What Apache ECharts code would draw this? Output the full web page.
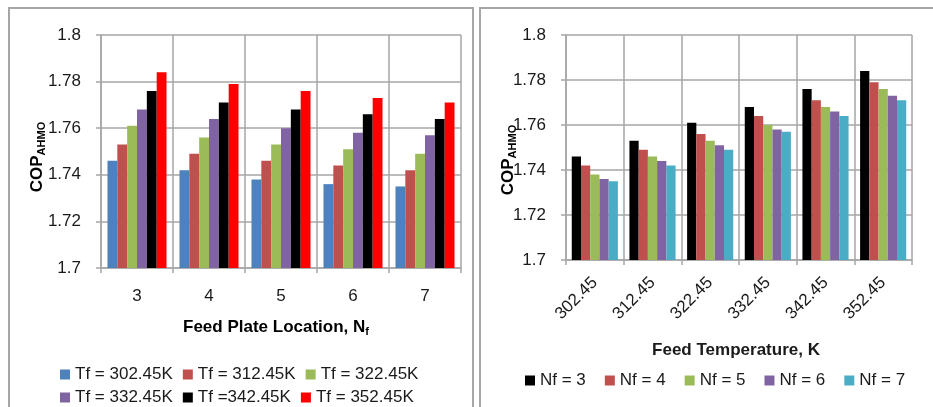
<!DOCTYPE html>
<html>
<head>
<meta charset="utf-8">
<script src="https://cdn.jsdelivr.net/npm/echarts@6/dist/echarts.min.js"></script>
<style>
html,body{margin:0;padding:0;background:#fff;}
#c{width:933px;height:407px;}
</style>
</head>
<body>
<div id="c"></div>
<script>
// Categories
const nfCats = ['3', '4', '5', '6', '7'];
const tfCats = ['302.45', '312.45', '322.45', '332.45', '342.45', '352.45'];
// Legend names
const tfNames = ['Tf = 302.45K', 'Tf = 312.45K', 'Tf = 322.45K', 'Tf = 332.45K', 'Tf =342.45K', 'Tf = 352.45K'];
const nfNames = ['Nf = 3', 'Nf = 4', 'Nf = 5', 'Nf = 6', 'Nf = 7'];
// COP_AHMO values for each feed temperature, over Nf = 3..7
const copTf302 = [1.746, 1.742, 1.738, 1.736, 1.735];
const copTf312 = [1.753, 1.749, 1.746, 1.744, 1.742];
const copTf322 = [1.761, 1.756, 1.753, 1.751, 1.749];
const copTf332 = [1.768, 1.764, 1.760, 1.758, 1.757];
const copTf342 = [1.776, 1.771, 1.768, 1.766, 1.764];
const copTf352 = [1.784, 1.779, 1.776, 1.773, 1.771];
// Y tick settings
const yMin = 1.7, yMax = 1.8, yStep = 0.02;

const tfRows = [copTf302, copTf312, copTf322, copTf332, copTf342, copTf352];
const leftColors = ['#4F81BD', '#C0504D', '#9BBB59', '#8064A2', '#000000', '#FF0000'];
const rightColors = ['#000000', '#C0504D', '#9BBB59', '#8064A2', '#4BACC6'];

const FONT = 'Liberation Sans, Arial, sans-serif';
const TXT = '#1a1a1a';
const GRID = '#a6a6a6';

function yAxisCfg(gi) {
  return {
    gridIndex: gi, type: 'value', min: yMin, max: yMax, interval: yStep,
    axisLine: {show: true, lineStyle: {color: GRID, width: 1.5}},
    axisTick: {show: true, length: 5, lineStyle: {color: GRID, width: 1.5}},
    splitLine: {show: true, lineStyle: {color: GRID, width: 1.5}},
    axisLabel: {color: TXT, fontSize: 17, fontFamily: FONT, margin: 20,
      formatter: v => String(+v.toFixed(2))}
  };
}
function xAxisCfg(gi, cats, rot, margin) {
  return {
    gridIndex: gi, type: 'category', data: cats,
    axisLine: {show: true, lineStyle: {color: GRID, width: 1.5}},
    axisTick: {show: true, length: 5, lineStyle: {color: GRID, width: 1.5}},
    splitLine: {show: true, lineStyle: {color: GRID, width: 1.5}},
    axisLabel: {color: TXT, fontSize: 17, fontFamily: FONT, margin: margin, rotate: rot, interval: 0}
  };
}

const series = [];
tfNames.forEach((n, i) => {
  series.push({
    type: 'bar', name: n, xAxisIndex: 0, yAxisIndex: 0,
    data: tfRows[i], barGap: '0%', barCategoryGap: '18%',
    itemStyle: {color: leftColors[i]}
  });
});
nfNames.forEach((n, j) => {
  series.push({
    type: 'bar', name: n, xAxisIndex: 1, yAxisIndex: 1,
    data: tfRows.map(r => r[j]), barGap: '0%', barCategoryGap: '20%',
    itemStyle: {color: rightColors[j]}
  });
});

const legendBase = {
  icon: 'rect', itemWidth: 10, itemHeight: 10, itemGap: 10,
  textStyle: {color: TXT, fontSize: 17, fontFamily: FONT}, orient: 'horizontal',
  selectedMode: false
};

const subRich = {
  a: {fontSize: 17, fontWeight: 'bold', fontFamily: FONT, color: TXT, lineHeight: 20, verticalAlign: 'middle'},
  b: {fontSize: 11, fontWeight: 'bold', fontFamily: FONT, color: TXT, lineHeight: 12, verticalAlign: 'bottom'}
};

const option = {
  animation: false,
  backgroundColor: '#fff',
  grid: [
    {left: 101, right: 472, top: 35, bottom: 139},
    {left: 566, right: 21, top: 35, bottom: 147}
  ],
  xAxis: [xAxisCfg(0, nfCats, 0, 20), xAxisCfg(1, tfCats, 45, 20)],
  yAxis: [yAxisCfg(0), yAxisCfg(1)],
  legend: [
    Object.assign({}, legendBase, {data: tfNames.slice(0, 3), left: 55, top: 361}),
    Object.assign({}, legendBase, {data: tfNames.slice(3), left: 55, top: 384}),
    Object.assign({}, legendBase, {data: nfNames, left: 520, top: 367, itemGap: 19})
  ],
  series: series,
  graphic: [
    {type: 'rect', shape: {x: 9, y: 8, width: 464, height: 430}, style: {fill: 'none', stroke: GRID, lineWidth: 2}, silent: true},
    {type: 'rect', shape: {x: 480, y: 8, width: 470, height: 430}, style: {fill: 'none', stroke: GRID, lineWidth: 2}, silent: true},
    {type: 'text', x: 37, y: 157, rotation: Math.PI / 2,
      style: {text: '{a|COP}{b|AHMO}', rich: subRich, align: 'center', verticalAlign: 'middle'}},
    {type: 'text', x: 508, y: 160, rotation: Math.PI / 2,
      style: {text: '{a|COP}{b|AHMO}', rich: subRich, align: 'center', verticalAlign: 'middle'}},
    {type: 'text', x: 276, y: 327,
      style: {text: '{a|Feed Plate Location, N}{b|f}', rich: subRich, align: 'center', verticalAlign: 'middle'}},
    {type: 'text', x: 736, y: 350,
      style: {text: 'Feed Temperature, K', fontSize: 17, fontWeight: 'bold', fontFamily: FONT, fill: TXT, align: 'center', verticalAlign: 'middle'}}
  ]
};

const chart = echarts.init(document.getElementById('c'), null, {renderer: 'canvas'});
chart.setOption(option);
</script>
</body>
</html>
